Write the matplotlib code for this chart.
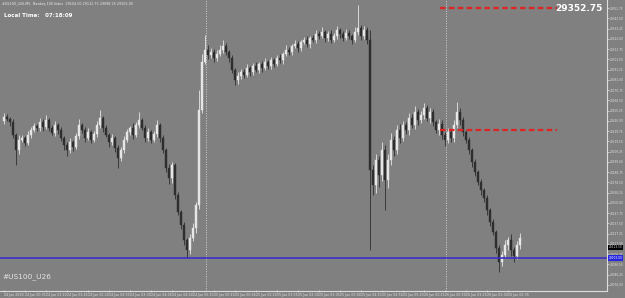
import numpy as np
import matplotlib.pyplot as plt
from matplotlib import transforms

# close prices, M5 candles
closes = [29244, 29242, 29239, 29226, 29211, 29221, 29223, 29218, 29226, 29231,
          29235, 29233, 29239, 29234, 29241, 29233, 29228, 29236, 29231, 29223,
          29216, 29211, 29219, 29214, 29225, 29236, 29231, 29223, 29229, 29221,
          29227, 29236, 29243, 29233, 29226, 29219, 29223, 29213, 29203, 29211,
          29221, 29229, 29233, 29226, 29236, 29241, 29233, 29223, 29229, 29221,
          29227, 29236, 29223, 29211, 29193, 29183, 29196, 29166, 29149, 29136,
          29121, 29111, 29123, 29133, 29156, 29251, 29299, 29311, 29306, 29309,
          29303, 29307, 29311, 29315, 29309, 29303, 29291, 29281, 29285, 29289,
          29286, 29293, 29289, 29295, 29291, 29297, 29293, 29299, 29295, 29301,
          29297, 29303, 29301, 29307, 29311, 29309, 29315, 29317, 29313, 29319,
          29321, 29317, 29323, 29321, 29327, 29325, 29329, 29323, 29327, 29321,
          29325, 29331, 29327, 29323, 29328, 29325, 29321, 29329, 29333, 29325,
          29331, 29321, 29191, 29176, 29201, 29186, 29211, 29181, 29201, 29221,
          29211, 29231, 29223, 29236, 29231, 29243, 29236, 29249, 29241, 29246,
          29253, 29243, 29249, 29239, 29231, 29237, 29226, 29221, 29229, 29223,
          29236, 29249, 29241, 29229, 29221, 29211, 29199, 29189, 29179, 29171,
          29163, 29151, 29139, 29129, 29113, 29099, 29106, 29116, 29121, 29111,
          29105, 29116, 29123]
first_open = 29240
up_wick = [4, 3, 2, 3, 2, 5, 3, 2, 4, 3,
           3, 2, 4, 3, 5, 2, 3, 4, 2, 3,
           2, 3, 4, 2, 3, 6, 2, 3, 4, 2,
           3, 4, 8, 2, 3, 2, 4, 2, 3, 3,
           4, 3, 2, 5, 3, 8, 2, 3, 4, 2,
           3, 5, 2, 3, 2, 4, 3, 2, 3, 2,
           3, 2, 4, 5, 3, 20, 8, 15, 5, 4,
           3, 4, 5, 6, 3, 2, 3, 2, 4, 3,
           3, 4, 2, 3, 4, 2, 3, 4, 2, 3,
           2, 3, 4, 2, 5, 3, 2, 4, 3, 2,
           3, 4, 2, 3, 4, 3, 5, 2, 3, 4,
           3, 4, 2, 3, 4, 3, 2, 5, 23, 3,
           4, 3, 10, 5, 6, 4, 8, 5, 6, 7,
           4, 5, 6, 4, 3, 5, 4, 6, 3, 4,
           5, 3, 4, 3, 2, 5, 4, 3, 4, 3,
           5, 10, 4, 3, 2, 3, 2, 3, 2, 3,
           2, 3, 2, 3, 2, 3, 4, 5, 3, 6,
           3, 4, 5]
dn_wick = [3, 2, 4, 3, 15, 4, 2, 3, 2, 3,
           2, 3, 3, 4, 2, 3, 2, 3, 4, 3,
           5, 6, 3, 4, 2, 3, 3, 4, 2, 3,
           2, 3, 3, 4, 2, 5, 3, 4, 10, 3,
           3, 2, 3, 4, 2, 3, 2, 4, 3, 3,
           2, 3, 4, 3, 4, 6, 5, 4, 3, 4,
           5, 8, 4, 3, 5, 4, 3, 2, 4, 3,
           4, 3, 2, 3, 3, 4, 3, 5, 4, 3,
           3, 2, 4, 3, 2, 3, 4, 2, 3, 3,
           3, 2, 3, 4, 2, 3, 3, 2, 4, 3,
           2, 3, 4, 2, 3, 3, 2, 4, 3, 3,
           2, 3, 4, 3, 2, 3, 4, 2, 3, 4,
           3, 4, 80, 10, 8, 12, 6, 30, 8, 5,
           6, 4, 5, 3, 4, 5, 3, 4, 5, 3,
           4, 3, 5, 4, 3, 5, 4, 6, 3, 4,
           4, 3, 5, 4, 3, 4, 5, 4, 3, 5,
           4, 5, 4, 3, 5, 10, 4, 3, 5, 6,
           6, 3, 4]

bid_price = 29103.00
ask_price = 29113.50
level_hi = 29352.75
level_mid = 29231.00
day_breaks = [67.3, 147.3]
time_labels = ["24 Jun 2026", "24 Jun 00:35", "24 Jun 01:10", "24 Jun 01:45", "24 Jun 02:20",
               "24 Jun 02:55", "24 Jun 03:30", "24 Jun 04:05", "24 Jun 04:40", "24 Jun 05:15",
               "25 Jun 00:10", "25 Jun 00:45", "25 Jun 01:20", "25 Jun 01:55", "25 Jun 02:30",
               "25 Jun 03:05", "25 Jun 03:40", "25 Jun 04:15", "25 Jun 04:50", "25 Jun 05:25",
               "26 Jun 00:15", "26 Jun 00:50", "26 Jun 01:25", "26 Jun 02:00", "26 Jun 02:35"]

bg = '#808080'
fig = plt.figure(figsize=(6.25, 2.98), dpi=100, facecolor=bg)
ax = fig.add_axes([0, 0.0235, 0.971, 0.9765], facecolor=bg)

closes = np.array(closes, dtype=float)
opens = np.concatenate([[first_open], closes[:-1]])
highs = np.maximum(opens, closes) + np.array(up_wick)
lows = np.minimum(opens, closes) - np.array(dn_wick)
x = np.arange(len(closes))
bull = closes >= opens
cols = np.where(bull, '#e6e6e6', '#2e2e2e')

ax.vlines(x, lows, highs, colors=cols, lw=0.6, zorder=3)
body = np.maximum(np.abs(closes - opens), 0.8)
ax.bar(x, body, bottom=np.minimum(opens, closes), width=0.62, color=cols,
       edgecolor=cols, lw=0.3, zorder=4)

for d in day_breaks:
    ax.axvline(d, color='#d0d0d0', ls=(0, (1, 1.5)), lw=0.7, zorder=1)

ax.axhline(bid_price, color='#3a30c8', lw=1.2, zorder=5)
ax.hlines([level_hi, level_mid], 145.3, 184.3, colors='#e02424', lw=1.6,
          linestyles=(0, (2.5, 1.5)), zorder=6)

ax.set_xlim(-4 / 3, -4 / 3 + 607 / 3)
ax.set_ylim(29070, 29361)

# price axis on the right
ax.yaxis.tick_right()
yt = np.arange(level_hi, 29072, -10.25)
ax.set_yticks(yt)
ax.set_yticklabels([f'{v:.2f}' for v in yt])
ax.tick_params(axis='y', colors='#e0e0e0', labelsize=2.1, length=1.5, width=0.5, pad=0.6)
ax.set_xticks(x[::7][:len(time_labels)])
ax.set_xticklabels(time_labels, ha='left')
ax.tick_params(axis='x', colors='#e0e0e0', labelsize=2.3, length=2, width=0.5,
               pad=0.5, direction='inout')
for s in ['top', 'left']:
    ax.spines[s].set_visible(False)
for s in ['right', 'bottom']:
    ax.spines[s].set_color('#dcdcdc')
    ax.spines[s].set_linewidth(0.8)

# price tags on the axis
tr = transforms.blended_transform_factory(ax.transAxes, ax.transData)
ax.text(1.003, ask_price, f'{ask_price:.2f}', transform=tr, fontsize=2.1, color='#e0e0e0',
        va='center', ha='left', bbox=dict(boxstyle='square,pad=0.2', fc='black', ec='none'),
        zorder=7, clip_on=False)
ax.text(1.003, bid_price, f'{bid_price:.2f}', transform=tr, fontsize=2.1, color='white',
        va='center', ha='left', bbox=dict(boxstyle='square,pad=0.2', fc='#2626e0', ec='none'),
        zorder=7, clip_on=False)

ax.text(0.993, level_hi, f'{level_hi:.2f}', transform=tr, fontsize=6.5, color='white',
        fontweight='bold', va='center', ha='right', zorder=7)

fig.text(0.004, 0.987, '#US100_U26,M5  Nasdaq 100 Index  29104.50 29112.75 29098.25 29103.00',
         fontsize=2.4, color='#e8e8e8', va='center', ha='left')
fig.text(0.006, 0.948, 'Local Time:   07:18:09', fontsize=4, color='white',
         fontweight='bold', va='center', ha='left')
fig.text(0.004, 0.072, '#US100_U26', fontsize=5.3, color='#e4e4e4',
         va='center', ha='left')

fig.savefig('out.png', dpi=100, facecolor=bg)
